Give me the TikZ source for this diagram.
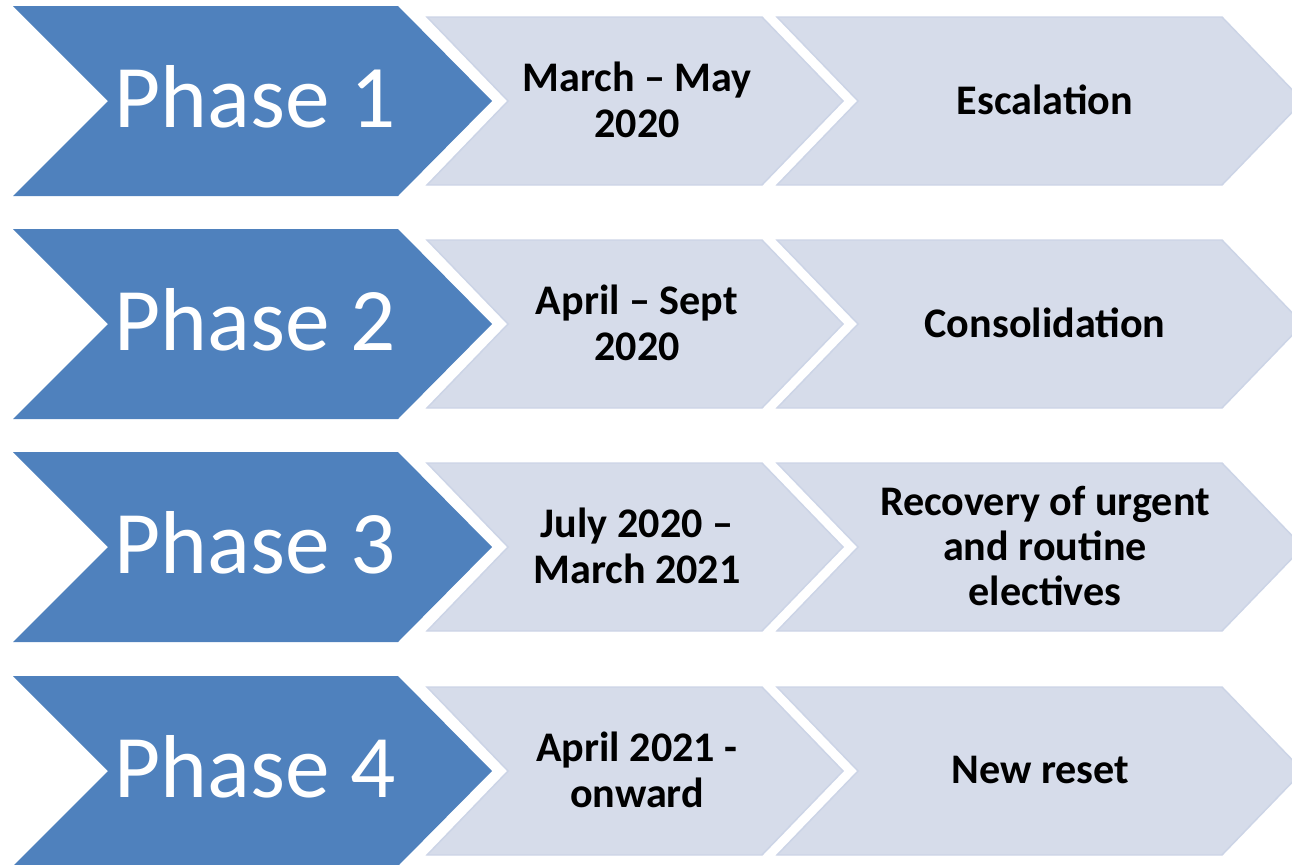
\documentclass[tikz,border=0pt]{standalone}
\usepackage{fontspec}
\setmainfont{Carlito}

\definecolor{phaseblue}{RGB}{79,129,189}
\definecolor{stagefill}{RGB}{214,220,234}
\definecolor{stageline}{RGB}{204,212,230}

\tikzset{
  phase/.style = {fill = phaseblue},
  stage/.style = {fill = stagefill, draw = stageline, line width = 1.1pt},
  phasetext/.style = {text = white, inner sep = 0pt,
                      font = \fontsize{67}{80}\selectfont},
  stagetext/.style = {align = center, inner sep = 0pt,
                      font = \fontsize{31.6}{34.1}\selectfont\bfseries}
}

\begin{document}
\begin{tikzpicture}[x = 0.75pt, y = -0.75pt]
  \useasboundingbox (0,0) rectangle (1292,864);
  \clip (0,0) rectangle (1292,864);

  \foreach \ytop/\dates/\what [count = \id] in {
    6/{March – May\\2020}/{Escalation},
    229/{April – Sept\\2020}/{Consolidation},
    452/{July 2020 –\\March 2021}/{Recovery of urgent\\and routine\\electives},
    676/{April 2021 -\\onward}/{New reset}
  } {
    \begin{scope}[shift = {(0,\ytop)}]
      \fill [phase] (13,0) -- (398,0) -- (492,95) -- (398,190)
                    -- (13,190) -- (108,95) -- cycle;
      \path [stage] (427,11) -- (762,11) -- (843,95) -- (762,179)
                    -- (427,179) -- (508,95) -- cycle;
      \path [stage] (777,11) -- (1222,11) -- (1303,95) -- (1222,179)
                    -- (777,179) -- (858,95) -- cycle;
      \node [phasetext, anchor = base] (ph\id) at (255,121) {Phase \id};
      \node [stagetext] (dt\id) at (637,94) {\dates};
      \node [stagetext] (st\id) at (1045,94) {\what};
    \end{scope}
  }
\end{tikzpicture}
\end{document}
